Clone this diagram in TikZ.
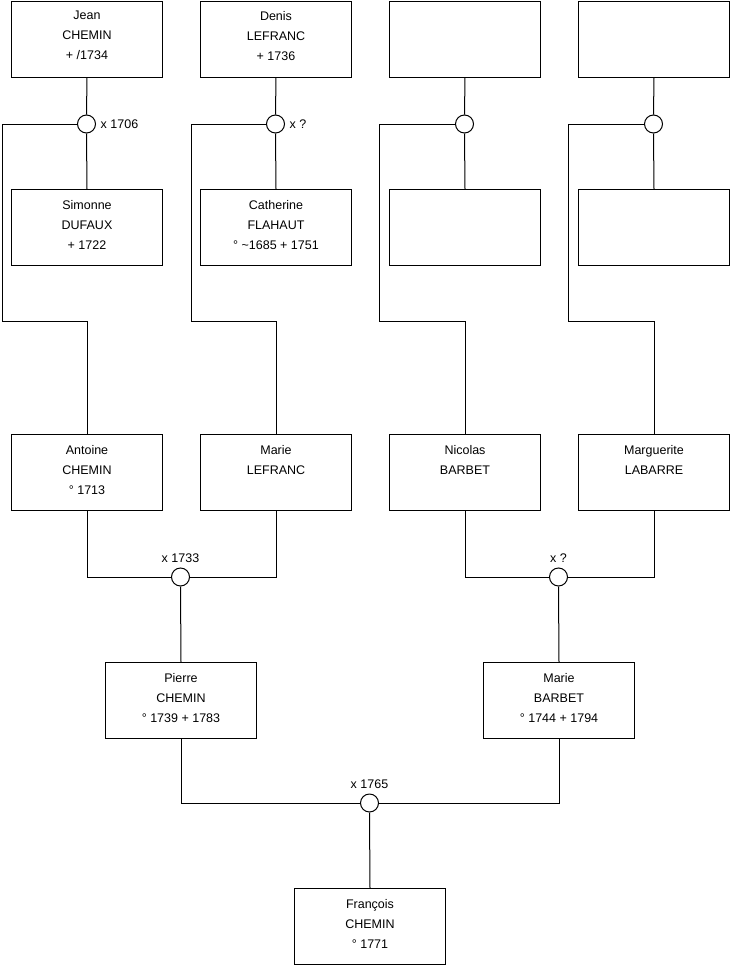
\documentclass[tikz,border=0pt]{standalone}
\usepackage{fontspec}
\setmainfont{Liberation Sans}
\begin{document}
\begin{tikzpicture}[x=1pt,y=-1pt,
  box/.style={draw, line width=1pt, minimum width=151pt, minimum height=76pt, inner sep=0pt, anchor=north west},
  txt/.style={font=\fontsize{12.5}{20}\selectfont, align=center, inner sep=0pt, anchor=north},
  wed/.style={draw, circle, minimum size=18pt, inner sep=0pt, line width=1pt, fill=white},
  lbl/.style={font=\fontsize{12.5}{14}\selectfont, inner sep=0pt},
  conn/.style={line width=1pt}]
\useasboundingbox (0,0) rectangle (740,975);
% boxes
\node[box] (jean) at (11,0.5) {};
\node[box] (denis) at (200,0.5) {};
\node[box] (e1) at (389,0.5) {};
\node[box] (e2) at (578,0.5) {};
\node[box] (simonne) at (11,189) {};
\node[box] (catherine) at (200,189) {};
\node[box] (e3) at (389,189) {};
\node[box] (e4) at (578,189) {};
\node[box] (antoine) at (11,434) {};
\node[box] (marieL) at (200,434) {};
\node[box] (nicolas) at (389,434) {};
\node[box] (marguerite) at (578,434) {};
\node[box] (pierre) at (105,662) {};
\node[box] (marieB) at (483,662) {};
\node[box] (francois) at (294,888) {};
% texts
\node[txt] (tjean) at ([yshift=-10.5pt]jean.north) {Jean\\CHEMIN\\+ /1734};
\node[txt] (tdenis) at ([yshift=-10.5pt]denis.north) {Denis\\LEFRANC\\+ 1736};
\node[txt] (tsimonne) at ([yshift=-11pt]simonne.north) {Simonne\\DUFAUX\\+ 1722};
\node[txt] (tcatherine) at ([yshift=-11pt]catherine.north) {Catherine\\FLAHAUT\\° \textasciitilde1685 + 1751};
\node[txt] (tantoine) at ([yshift=-11pt]antoine.north) {Antoine\\CHEMIN\\° 1713};
\node[txt] (tmarieL) at ([yshift=-11pt]marieL.north) {Marie\\LEFRANC};
\node[txt] (tnicolas) at ([yshift=-11pt]nicolas.north) {Nicolas\\BARBET};
\node[txt] (tmarguerite) at ([yshift=-11pt]marguerite.north) {Marguerite\\LABARRE};
\node[txt] (tpierre) at ([yshift=-11pt]pierre.north) {Pierre\\CHEMIN\\° 1739 + 1783};
\node[txt] (tmarieB) at ([yshift=-11pt]marieB.north) {Marie\\BARBET\\° 1744 + 1794};
\node[txt] (tfrancois) at ([yshift=-11pt]francois.north) {François\\CHEMIN\\° 1771};
% wedding circles
\node[wed] (w1) at (86.5,124) {};
\node[wed] (w2) at (275.5,124) {};
\node[wed] (w3) at (464.5,124) {};
\node[wed] (w4) at (653.5,124) {};
\node[wed] (w5) at (180.5,577) {};
\node[wed] (w6) at (558.5,577) {};
\node[wed] (w7) at (369.5,803) {};
% bends
\coordinate (k1) at (2.5,321);
\coordinate (k2) at (191,321);
\coordinate (k3) at (379.5,321);
\coordinate (k4) at (568.5,321);
% connectors
\draw[conn] (jean.south) -- (w1.north);
\draw[conn] (w1.south) -- (simonne.north);
\draw[conn] (w1.west) -| (k1) -| (antoine.north);
\draw[conn] (denis.south) -- (w2.north);
\draw[conn] (w2.south) -- (catherine.north);
\draw[conn] (w2.west) -| (k2) -| (marieL.north);
\draw[conn] (e1.south) -- (w3.north);
\draw[conn] (w3.south) -- (e3.north);
\draw[conn] (w3.west) -| (k3) -| (nicolas.north);
\draw[conn] (e2.south) -- (w4.north);
\draw[conn] (w4.south) -- (e4.north);
\draw[conn] (w4.west) -| (k4) -| (marguerite.north);
\draw[conn] (antoine.south) |- (w5.west);
\draw[conn] (marieL.south) |- (w5.east);
\draw[conn] (w5.south) -- (pierre.north);
\draw[conn] (nicolas.south) |- (w6.west);
\draw[conn] (marguerite.south) |- (w6.east);
\draw[conn] (w6.south) -- (marieB.north);
\draw[conn] (pierre.south) |- (w7.west);
\draw[conn] (marieB.south) |- (w7.east);
\draw[conn] (w7.south) -- (francois.north);
% labels
\node[lbl, anchor=west] (l1) at ([xshift=4.5pt]w1.east) {x 1706};
\node[lbl, anchor=west] (l2) at ([xshift=4.5pt]w2.east) {x ?};
\node[lbl, anchor=south] (l5) at ([yshift=5pt]w5.north) {x 1733};
\node[lbl, anchor=south] (l6) at ([yshift=5pt]w6.north) {x ?};
\node[lbl, anchor=south] (l7) at ([yshift=5pt]w7.north) {x 1765};
\end{tikzpicture}
\end{document}
